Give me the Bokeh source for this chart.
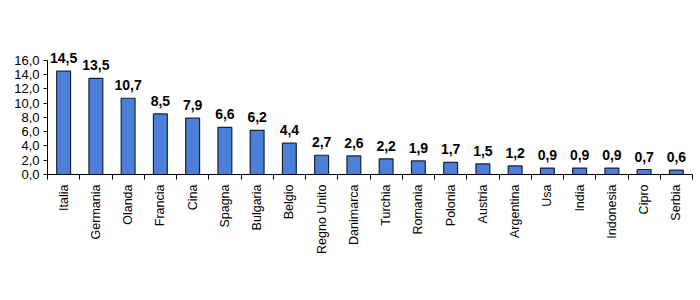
import math
from bokeh.plotting import figure
from bokeh.models import ColumnDataSource, Range1d, FixedTicker, LabelSet
from bokeh.core.properties import value
from bokeh.embed import file_html
from bokeh.resources import INLINE

countries = ["Italia", "Germania", "Olanda", "Francia", "Cina", "Spagna", "Bulgaria",
             "Belgio", "Regno Unito", "Danimarca", "Turchia", "Romania", "Polonia",
             "Austria", "Argentina", "Usa", "India", "Indonesia", "Cipro", "Serbia"]
values = [14.5, 13.5, 10.7, 8.5, 7.9, 6.6, 6.2, 4.4, 2.7, 2.6, 2.2, 1.9, 1.7,
          1.5, 1.2, 0.9, 0.9, 0.9, 0.7, 0.6]
y_ticks = [0, 2, 4, 6, 8, 10, 12, 14, 16]

def it(v):
    return f"{v:.1f}".replace(".", ",")

n = len(countries)
xs = [i + 0.5 for i in range(n)]
src = ColumnDataSource(dict(x=xs, top=values, label=[it(v) for v in values]))

p = figure(width=700, height=300, output_backend="svg", toolbar_location=None,
           x_range=Range1d(0, n), y_range=Range1d(0, 18.8),
           min_border_left=47, min_border_right=8, min_border_top=40, min_border_bottom=126)
p.outline_line_color = None
p.xgrid.visible = False
p.ygrid.visible = False
p.background_fill_color = "white"
p.border_fill_color = "white"

p.vbar(x="x", top="top", width=0.43, bottom=0, source=src,
       fill_color="#4A80DA", line_color="#1C2333", line_width=1.2)

labels = LabelSet(x="x", y="top", text="label", source=src, text_align="center",
                  text_baseline="bottom", y_offset=8, text_font=value("Liberation Sans"),
                  text_font_style="bold", text_font_size="14px", text_color="black")
p.add_layout(labels)

xa = p.xaxis[0]
xa.ticker = FixedTicker(ticks=xs, minor_ticks=list(range(n + 1)))
xa.major_label_overrides = {x: c for x, c in zip(xs, countries)}
xa.major_label_orientation = math.pi / 2
xa.major_tick_out = 0
xa.major_tick_in = 0
xa.minor_tick_out = 5
xa.minor_tick_in = 0
xa.minor_tick_line_color = "black"
xa.axis_line_color = "black"
xa.major_label_text_font = "Liberation Sans"
xa.major_label_text_font_size = "12.5px"
xa.major_label_text_color = "black"
xa.major_label_standoff = 5

ya = p.yaxis[0]
ya.ticker = FixedTicker(ticks=y_ticks)
ya.bounds = (0, 16)
ya.major_label_overrides = {t: it(t) for t in y_ticks}
ya.minor_tick_line_color = None
ya.major_tick_out = 4
ya.major_tick_in = 0
ya.axis_line_color = "black"
ya.major_tick_line_color = "black"
ya.major_label_text_font = "Liberation Sans"
ya.major_label_text_font_size = "13px"
ya.major_label_text_color = "black"
ya.major_label_standoff = 4

open("out.html", "w").write(file_html(p, INLINE))
